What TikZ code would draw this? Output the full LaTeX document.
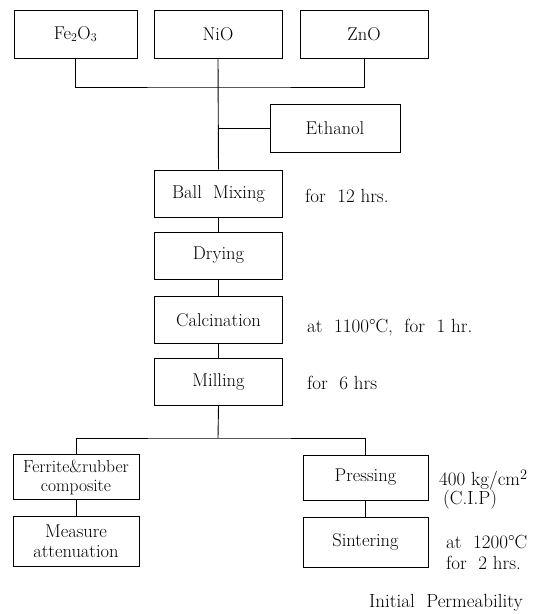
\documentclass[tikz,border=0pt]{standalone}
\usetikzlibrary{positioning}

\begin{document}
\begin{tikzpicture}[
  x=1pt, y=-1pt, every node/.style={font=\fontsize{18.5}{20}\selectfont},
  box/.style={draw, line width=0.9pt, minimum width=128pt, minimum height=47pt,
              align=center, inner sep=1pt},
  note/.style={anchor=west, align=left, inner sep=1pt, font=\fontsize{19}{20}\selectfont},
  ln/.style={line width=0.9pt}
]
\useasboundingbox (0,0) rectangle (537,614);

\node[box, minimum width=123pt, minimum height=48pt] (fe)  at (75.5,34) {Fe$_2$O$_3$};
\node[box, minimum height=48pt] (nio) at (218,34)  {NiO};
\node[box, minimum height=48pt] (zno) at (364,34)  {ZnO};
\node[box, minimum width=130pt, minimum height=48pt] (eth) at (335,128) {Ethanol};

\node[box] (mix)  at (218.5,193.5) {Ball\ \ Mixing};
\node[box] (dry)  at (218.5,255.5) {Drying};
\node[box] (calc) at (218.5,320)   {Calcination};
\node[box] (mill) at (218.5,382)   {Milling};

\node[box, minimum width=126pt, minimum height=45pt, font=\fontsize{17.5}{19}\selectfont]
     (comp) at (76,477) {Ferrite\&rubber\\composite};
\node[box, minimum width=126pt, minimum height=50pt] (meas)  at (76,541)  {Measure\\attenuation};
\node[box, minimum width=125pt, minimum height=45pt] (press) at (365.5,477.5) {Pressing};
\node[box, minimum width=125pt, minimum height=50pt] (sint)  at (365.5,542)   {Sintering};

\node[note] (tmix)  at (304,196) {for\ \ 12 hrs.};
\node[note] (tcalc) at (306,328) {at\ \ 1100\textdegree C,\ \ for\ \ 1 hr.};
\node[note] (tmill) at (306,383) {for\ \ 6 hrs};
\node[note] (tpress) at (438,480) {400 kg/cm$^2$};
\node[note] (tcip)  at (442,500) {(C.I.P)};
\node[note] (tsint) at (445,542) {at\ \ 1200\textdegree C};
\node[note] (thrs)  at (445,563) {for\ \ 2 hrs.};
\node[note] (tperm) at (368,603) {Initial\ \ Permeability};

% jonctions des traits
\coordinate (jtop) at (218,87);
\coordinate (jbot) at (218,438);

\draw[ln] (fe.south) |- (jtop) -| (zno.south);
\draw[ln] (nio.south) -- (mix.north);
\draw[ln] (eth.west) -- (eth.west -| nio.south);
\draw[ln] (mix.south) -- (dry.north);
\draw[ln] (dry.south) -- (calc.north);
\draw[ln] (calc.south) -- (mill.north);
\draw[ln] (mill.south) -- (jbot);
\draw[ln] (comp.north) |- (jbot) -| (press.north);
\draw[ln] (comp.south) -- (meas.north);
\draw[ln] (press.south) -- (sint.north);
\end{tikzpicture}
\end{document}
